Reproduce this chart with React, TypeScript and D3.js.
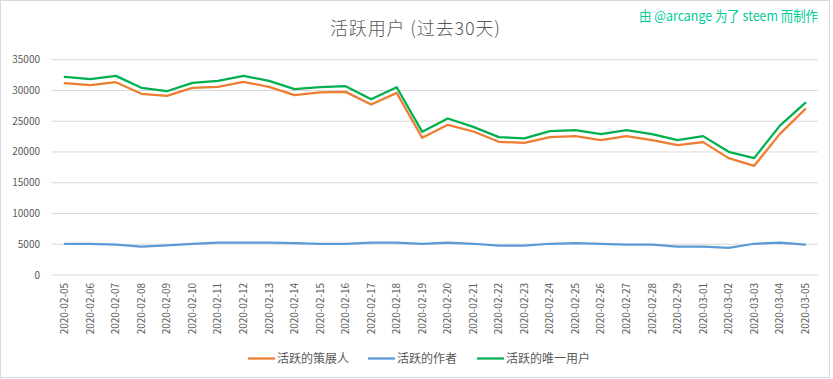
import React, { useEffect } from "react";
import * as d3 from "d3";

const dates = [
  "2020-02-05","2020-02-06","2020-02-07","2020-02-08","2020-02-09","2020-02-10",
  "2020-02-11","2020-02-12","2020-02-13","2020-02-14","2020-02-15","2020-02-16",
  "2020-02-17","2020-02-18","2020-02-19","2020-02-20","2020-02-21","2020-02-22",
  "2020-02-23","2020-02-24","2020-02-25","2020-02-26","2020-02-27","2020-02-28",
  "2020-02-29","2020-03-01","2020-03-02","2020-03-03","2020-03-04","2020-03-05",
];

const curators = [
  31200, 30860, 31340, 29460, 29120, 30420, 30580, 31390, 30580, 29230,
  29670, 29770, 27720, 29610, 22300, 24410, 23330, 21650, 21490, 22410,
  22570, 21920, 22570, 21920, 21110, 21600, 19000, 17750, 22900, 26960,
];

const authors = [
  5080, 5080, 4920, 4600, 4800, 5050, 5250, 5250, 5250, 5200,
  5080, 5080, 5250, 5250, 5080, 5250, 5080, 4780, 4780, 5080,
  5200, 5080, 4920, 4920, 4600, 4600, 4420, 5080, 5250, 4920,
];

const uniqueUsers = [
  32200, 31830, 32370, 30430, 29880, 31230, 31560, 32370, 31560, 30210,
  30530, 30700, 28580, 30530, 23270, 25450, 24080, 22410, 22200, 23390,
  23550, 22900, 23550, 22900, 21920, 22570, 20030, 19000, 24250, 27990,
];

const yTicks = [0, 5000, 10000, 15000, 20000, 25000, 30000, 35000];

const seriesNames = ["活跃的策展人", "活跃的作者", "活跃的唯一用户"];
const seriesColors = ["#ED7D31", "#5B9BD5", "#00B050"];

const W = 833;
const H = 379;
const FONT = "'Noto Sans CJK SC', 'Noto Sans', sans-serif";

export default function App() {
  useEffect(() => {
    document.body.style.margin = "0";
  }, []);

  const x = d3.scaleBand<string>().domain(dates).range([52, 818]);
  const cx = (d: string) => (x(d) as number) + x.bandwidth() / 2;
  const y = d3.scaleLinear().domain([0, 35000]).range([275, 59.7]);

  const series = [curators, authors, uniqueUsers];
  const line = d3
    .line<number>()
    .x((_, i) => cx(dates[i]))
    .y((v) => y(v));

  const legendX = [248, 368, 477];

  return (
    <svg width={W} height={H} style={{ display: "block", position: "absolute", left: 0, top: 0 }} fontFamily={FONT}>
      <rect x={0} y={0} width={W} height={H} fill="#ffffff" />
      <rect x={0.5} y={0.5} width={829} height={377} fill="none" stroke="#D9D9D9" />
      <text x={415} y={30} textAnchor="middle" dominantBaseline="middle" fontSize={18} fontWeight={300} fill="#595959" textLength={170} lengthAdjust="spacing">
        活跃用户 (过去30天)
      </text>
      <text x={818} y={17} textAnchor="end" dominantBaseline="middle" fontSize={13.5} fill="#00CC99" textLength={179} lengthAdjust="spacingAndGlyphs">
        由 @arcange 为了 steem 而制作
      </text>
      {yTicks.map((t) => (
        <g key={t}>
          <line x1={52} x2={818} y1={y(t)} y2={y(t)} stroke="#D9D9D9" strokeWidth={1} />
          <text x={40} y={y(t)} dy="0.35em" textAnchor="end" fontSize={10} fill="#595959">
            {t}
          </text>
        </g>
      ))}
      {dates.map((d) => (
        <text
          key={d}
          transform={`translate(${cx(d)},283) rotate(-90)`}
          dy="0.35em"
          textAnchor="end"
          fontSize={10}
          fill="#595959"
        >
          {d}
        </text>
      ))}
      {series.map((s, i) => (
        <path
          key={i}
          d={line(s) as string}
          fill="none"
          stroke={seriesColors[i]}
          strokeWidth={2.25}
          strokeLinejoin="round"
          strokeLinecap="round"
        />
      ))}
      {seriesNames.map((n, i) => (
        <g key={n}>
          <line x1={legendX[i]} x2={legendX[i] + 27} y1={358.5} y2={358.5} stroke={seriesColors[i]} strokeWidth={2.25} />
          <text x={legendX[i] + 29} y={358.5} dy="0.35em" fontSize={12} fill="#595959">
            {n}
          </text>
        </g>
      ))}
    </svg>
  );
}
